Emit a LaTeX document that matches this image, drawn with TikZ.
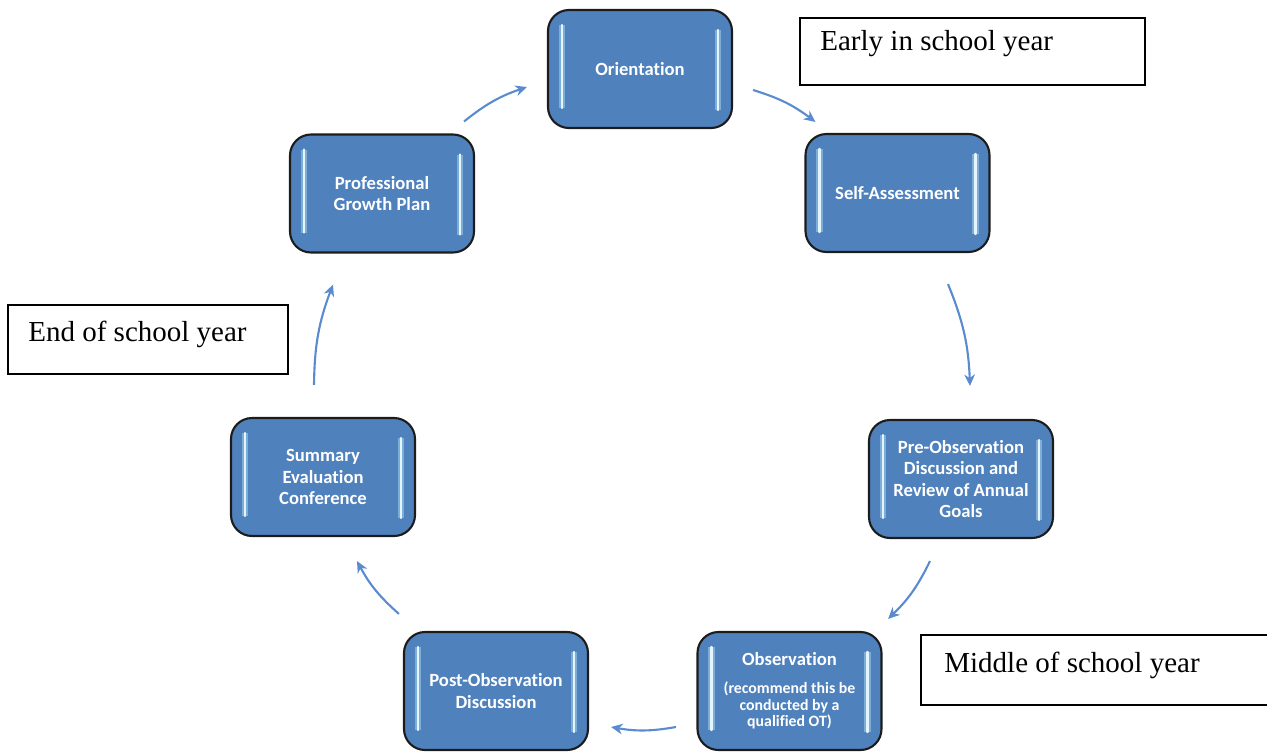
\documentclass[tikz,border=0pt]{standalone}
\usepackage{fontspec}
\setmainfont{Liberation Serif}
\newfontfamily\stagefont{Carlito}[Ligatures=NoCommon]
\usepackage{tikz}
\usetikzlibrary{arrows.meta}
\definecolor{stageblue}{HTML}{4F81BD}
\definecolor{flowblue}{HTML}{5A8BCF}
\definecolor{glintblue}{HTML}{E4F5FF}
\definecolor{rim}{HTML}{1C1C1C}
\tikzset{
  stage/.style={rounded corners=0.42cm, fill=stageblue, draw=rim, line width=1.2pt,
    minimum width=3.68cm, minimum height=2.36cm, text width=3.2cm, align=flush center,
    text=white, font=\stagefont\bfseries\fontsize{10.6}{12}\selectfont,
    path picture={
      \draw[glint] ([xshift=0.28cm,yshift=-0.30cm]path picture bounding box.north west)
        -- ([xshift=0.28cm,yshift=0.40cm]path picture bounding box.south west);
      \draw[glint] ([xshift=-0.28cm,yshift=-0.40cm]path picture bounding box.north east)
        -- ([xshift=-0.28cm,yshift=0.36cm]path picture bounding box.south east);
    }},
  glint/.style={draw=glintblue, line width=1.4pt, line cap=round, rounded corners=0pt,
    preaction={draw=cyan!30!white, line width=3.6pt, opacity=0.45}},
  note/.style={draw=black, line width=1.1pt, fill=white},
  notetxt/.style={anchor=base west, inner sep=0pt, font=\fontsize{16.5}{20}\selectfont},
  flow/.style={draw=flowblue, line width=1.2pt, bend left=10,
    -{Stealth[length=6.5pt,width=6pt,inset=2pt]}}
}
\begin{document}
\begin{tikzpicture}
  \useasboundingbox (0,0) rectangle (25.34,-15.06);

  % stages of the cycle
  \node[stage] (orient) at (12.80,-1.38) {Orientation};
  \node[stage] (selfa) at (17.95,-3.86) {Self-Assessment};
  \node[stage] (preobs) at (19.22,-9.58) {Pre-Observation\\Discussion and\\Review of Annual\\Goals};
  \node[stage] (observ) at (15.79,-13.82) {Observation\par\vspace{6pt}{\fontsize{9}{9.6}\selectfont (recommend this be\\conducted by a\\qualified OT)\par}};
  \node[stage] (postobs) at (9.92,-13.82) {Post-Observation\\Discussion};
  \node[stage] (summary) at (6.46,-9.54) {Summary\\Evaluation\\Conference};
  \node[stage] (growth) at (7.64,-3.87) {Professional\\Growth Plan};

  % time of year
  \node[note, minimum width=6.90cm, minimum height=1.34cm] (early) at (19.45,-1.03) {};
  \node[notetxt] (earlytxt) at ([xshift=0.42cm,yshift=-0.67cm]early.north west) {Early in school year};
  \node[note, minimum width=5.60cm, minimum height=1.38cm] (late) at (2.96,-6.79) {};
  \node[notetxt] (latetxt) at ([xshift=0.42cm,yshift=-0.74cm]late.north west) {End of school year};
  \node[note, minimum width=7.08cm, minimum height=1.40cm] (middle) at (21.96,-13.40) {};
  \node[notetxt] (middletxt) at ([xshift=0.48cm,yshift=-0.76cm]middle.north west) {Middle of school year};

  % arrows round the cycle
  \draw[flow] ([shift={(0.40,-0.42)}]orient.east) to ([shift={(0.22,0.22)}]selfa.north west);
  \draw[flow] ([shift={(1.01,-0.62)}]selfa.south) to ([shift={(0.18,0.66)}]preobs.north);
  \draw[flow] ([shift={(-0.62,-0.44)}]preobs.south) to ([shift={(0.11,0.24)}]observ.north east);
  \draw[flow] ([shift={(-0.41,-0.72)}]observ.west) to ([shift={(0.44,-0.72)}]postobs.east);
  \draw[flow] ([shift={(-0.08,0.34)}]postobs.north west) to ([shift={(0.68,-0.48)}]summary.south);
  \draw[flow] ([shift={(-0.18,0.64)}]summary.north) to ([shift={(-0.98,-0.62)}]growth.south);
  \draw[flow] ([shift={(-0.22,0.24)}]growth.north east) to ([shift={(-0.40,-0.36)}]orient.west);
\end{tikzpicture}
\end{document}
